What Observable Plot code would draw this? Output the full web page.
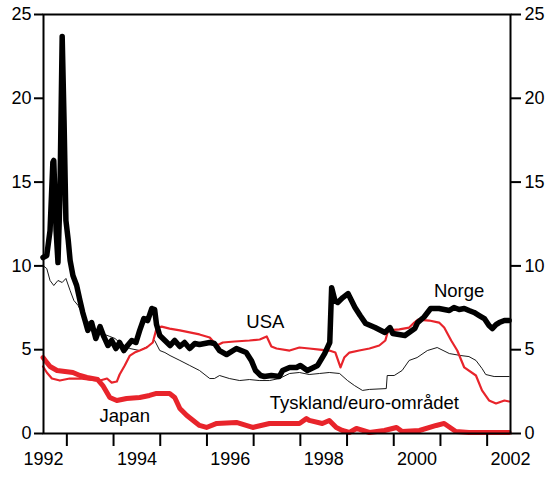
<!DOCTYPE html>
<html><head><meta charset="utf-8">
<script src="https://cdn.jsdelivr.net/npm/d3@7"></script>
<script src="https://cdn.jsdelivr.net/npm/@observablehq/plot@0.6"></script>
<style>body{margin:0;background:#fff} svg{font-family:"Liberation Sans",Arial,sans-serif}</style>
</head><body><div id="chart"></div>
<script>
// [decimal year, percent]
const norge = [
[1992.49,10.50],[1992.57,10.62],[1992.64,12.11],[1992.70,16.17],[1992.72,16.29],[1992.77,12.11],[1992.81,10.20],[1992.85,13.90],[1992.90,23.69],[1992.94,18.68],[1992.98,12.71],[1993.03,11.52],[1993.07,10.32],[1993.13,9.43],[1993.21,8.83],[1993.28,7.94],[1993.34,7.22],[1993.39,6.74],[1993.45,6.15],[1993.53,6.62],[1993.62,5.67],[1993.71,6.38],[1993.79,5.79],[1993.88,5.25],[1993.96,5.55],[1994.05,5.07],[1994.13,5.43],[1994.22,4.95],[1994.30,5.25],[1994.39,5.55],[1994.48,5.43],[1994.56,6.15],[1994.65,6.86],[1994.73,6.74],[1994.82,7.46],[1994.88,7.40],[1994.92,6.50],[1994.99,5.85],[1995.10,5.55],[1995.21,5.25],[1995.31,5.55],[1995.42,5.19],[1995.52,5.43],[1995.63,5.07],[1995.74,5.37],[1995.84,5.31],[1995.95,5.37],[1996.06,5.43],[1996.16,5.37],[1996.27,4.95],[1996.42,4.71],[1996.63,5.07],[1996.84,4.83],[1996.95,4.36],[1997.04,3.76],[1997.15,3.46],[1997.23,3.40],[1997.38,3.46],[1997.55,3.40],[1997.62,3.76],[1997.77,3.94],[1997.92,3.94],[1998.00,4.06],[1998.15,3.76],[1998.37,4.06],[1998.52,4.77],[1998.63,5.43],[1998.67,8.70],[1998.74,7.94],[1998.80,7.82],[1998.91,8.11],[1999.02,8.35],[1999.17,7.52],[1999.28,7.04],[1999.40,6.56],[1999.60,6.32],[1999.81,6.03],[1999.92,6.32],[1999.98,5.97],[2000.24,5.85],[2000.45,6.26],[2000.51,6.62],[2000.65,6.95],[2000.79,7.46],[2000.97,7.46],[2001.08,7.40],[2001.19,7.34],[2001.29,7.52],[2001.40,7.40],[2001.51,7.46],[2001.61,7.34],[2001.72,7.22],[2001.83,7.04],[2001.94,6.86],[2002.04,6.44],[2002.11,6.26],[2002.19,6.50],[2002.26,6.62],[2002.37,6.74],[2002.47,6.74]
];
const usa = [
[1992.49,4.00],[1992.57,3.64],[1992.68,3.28],[1992.85,3.16],[1993.06,3.28],[1993.28,3.28],[1993.49,3.22],[1993.71,3.16],[1993.86,3.28],[1993.96,3.04],[1994.07,3.10],[1994.13,3.52],[1994.24,4.06],[1994.35,4.65],[1994.45,4.83],[1994.56,4.95],[1994.71,5.13],[1994.84,5.43],[1994.92,6.26],[1995.03,6.38],[1995.20,6.26],[1995.42,6.15],[1995.63,6.03],[1995.84,5.91],[1996.06,5.73],[1996.21,5.25],[1996.34,5.43],[1996.59,5.49],[1996.91,5.55],[1997.13,5.61],[1997.28,5.79],[1997.38,5.19],[1997.49,5.07],[1997.77,4.95],[1997.98,5.13],[1998.19,5.07],[1998.41,5.01],[1998.62,4.95],[1998.75,4.83],[1998.86,3.94],[1998.94,4.53],[1999.05,4.83],[1999.26,4.95],[1999.48,5.07],[1999.69,5.25],[1999.82,5.55],[1999.88,6.15],[2000.12,6.21],[2000.33,6.32],[2000.44,6.62],[2000.52,6.80],[2000.76,6.74],[2000.97,6.62],[2001.08,6.32],[2001.23,5.55],[2001.36,4.95],[2001.51,3.94],[2001.76,3.46],[2001.89,2.57],[2002.04,1.97],[2002.19,1.79],[2002.37,1.97],[2002.47,1.91]
];
const tyskland = [
[1992.49,10.02],[1992.57,9.84],[1992.64,9.13],[1992.72,8.83],[1992.81,9.13],[1992.90,9.01],[1992.98,9.25],[1993.07,8.53],[1993.15,7.94],[1993.24,7.64],[1993.32,7.22],[1993.41,6.74],[1993.49,6.62],[1993.60,6.26],[1993.71,5.97],[1993.81,5.91],[1993.92,5.79],[1994.03,5.67],[1994.13,5.43],[1994.24,5.25],[1994.35,5.07],[1994.56,4.95],[1994.77,5.25],[1994.88,5.55],[1994.99,4.95],[1995.10,4.83],[1995.21,4.65],[1995.42,4.36],[1995.63,4.06],[1995.84,3.76],[1996.06,3.28],[1996.16,3.28],[1996.27,3.46],[1996.48,3.28],[1996.70,3.16],[1996.91,3.22],[1997.12,3.16],[1997.34,3.16],[1997.55,3.28],[1997.77,3.58],[1997.98,3.64],[1998.19,3.52],[1998.41,3.58],[1998.62,3.64],[1998.84,3.58],[1999.01,3.16],[1999.16,2.86],[1999.33,2.57],[1999.48,2.63],[1999.84,2.68],[1999.86,3.46],[2000.01,3.46],[2000.18,3.76],[2000.33,4.36],[2000.50,4.53],[2000.72,4.95],[2000.93,5.13],[2001.19,4.77],[2001.44,4.65],[2001.61,4.59],[2001.76,4.36],[2001.89,3.88],[2001.97,3.52],[2002.15,3.40],[2002.47,3.40]
];
const japan = [
[1992.49,4.53],[1992.57,4.24],[1992.64,4.00],[1992.79,3.76],[1992.96,3.70],[1993.13,3.64],[1993.28,3.46],[1993.43,3.34],[1993.66,3.22],[1993.77,2.86],[1993.92,2.15],[1994.07,1.97],[1994.28,2.09],[1994.56,2.15],[1994.77,2.27],[1994.92,2.39],[1995.20,2.39],[1995.31,2.15],[1995.42,1.49],[1995.57,1.07],[1995.84,0.48],[1995.99,0.36],[1996.21,0.60],[1996.63,0.66],[1996.98,0.36],[1997.34,0.60],[1997.77,0.60],[1997.98,0.60],[1998.13,0.89],[1998.19,0.78],[1998.47,0.60],[1998.62,0.78],[1998.77,0.36],[1998.90,0.18],[1999.05,0.06],[1999.20,0.30],[1999.48,0.06],[1999.80,0.18],[2000.06,0.36],[2000.18,0.12],[2000.55,0.18],[2000.91,0.48],[2001.08,0.60],[2001.33,0.12],[2001.61,0.06],[2002.47,0.06]
];
const yTicks = [0, 5, 10, 15, 20, 25];
const yearBoundaries = [1993, 1994, 1995, 1996, 1997, 1998, 1999, 2000, 2001, 2002];
const yearLabels = ["1992", "1994", "1996", "1998", "2000", "2002"];
const seriesNames = ["Norge", "USA", "Tyskland/euro-området", "Japan"];
// annotation anchors in data units (year, percent)
const labelAt = [[2001.40, 8.47], [1997.25, 6.62], [1999.37, 1.79], [1994.24, 1.01]];

const RED = "#e8242b";
const rows = arr => arr.map(([t, v]) => ({t, v}));
const labelPos = yearLabels.map(s => +s + 0.5);
const labelRows = seriesNames.map((name, i) => ({name, t: labelAt[i][0], v: labelAt[i][1]}));

const chart = Plot.plot({
  width: 547, height: 477,
  marginLeft: 43, marginRight: 37, marginTop: 14, marginBottom: 44,
  style: {fontFamily: "'Liberation Sans', Arial, sans-serif", fontSize: "18px", color: "black", background: "white", overflow: "visible"},
  x: {domain: [1992.5, 2002.5], label: null},
  y: {domain: [0, 25], label: null},
  marks: [
    Plot.line(rows(tyskland), {x: "t", y: "v", stroke: "black", strokeWidth: 0.9}),
    Plot.line(rows(usa), {x: "t", y: "v", stroke: RED, strokeWidth: 2.2}),
    Plot.line(rows(japan), {x: "t", y: "v", stroke: RED, strokeWidth: 5, strokeLinejoin: "round"}),
    Plot.line(rows(norge), {x: "t", y: "v", stroke: "black", strokeWidth: 5.5, strokeLinejoin: "round"}),
    Plot.frame({stroke: "black", strokeWidth: 2}),
    Plot.axisY(yTicks, {anchor: "left", tickSize: 9, tickPadding: 3, strokeWidth: 2, fontSize: 18, label: null}),
    Plot.axisY(yTicks, {anchor: "right", tickSize: 10, tickPadding: 4, strokeWidth: 2, fontSize: 18, label: null}),
    Plot.axisX(yearBoundaries, {anchor: "bottom", tickSize: 13, strokeWidth: 2, tickFormat: () => "", label: null}),
    Plot.axisX(labelPos, {anchor: "bottom", tickSize: 0, tickPadding: 19, fontSize: 18, tickFormat: d => String(Math.floor(d)), label: null}),
    Plot.text(labelRows, {x: "t", y: "v", text: "name", fontSize: 18.5, fill: "black"})
  ]
});
document.getElementById("chart").appendChild(chart);
</script></body></html>
